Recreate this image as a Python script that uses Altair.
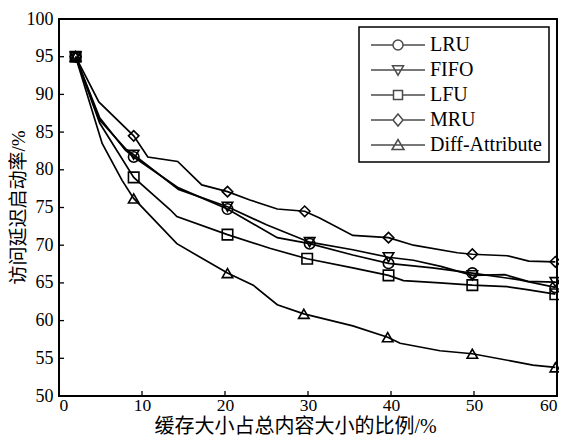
import altair as alt
import pandas as pd

SERIES = ["LRU", "FIFO", "LFU", "MRU", "Diff-Attribute"]

# vertices of each curve; M = 1 where a marker is drawn
LRU_X = [2, 4.9, 8, 9, 14.4, 20.3, 26.3, 30.2, 35.4, 39.7, 45, 49.8, 55.5, 59.8]
LRU_Y = [95, 86.9, 82.6, 81.7, 77.6, 74.8, 71.0, 70.2, 68.7, 67.6, 67.0, 66.3, 65.4, 64.4]
LRU_M = [1, 0, 0, 1, 0, 1, 0, 1, 0, 1, 0, 1, 0, 1]

FIFO_X = [2, 4.9, 8, 9, 14.4, 20.3, 25, 30.2, 35.4, 39.7, 42.7, 46, 49.8, 53.7, 56.5, 59.8]
FIFO_Y = [95, 86.6, 82.8, 82.0, 77.4, 75.1, 72.7, 70.4, 69.4, 68.4, 68.0, 67.2, 66.0, 66.1, 65.2, 65.1]
FIFO_M = [1, 0, 0, 1, 0, 1, 0, 1, 0, 1, 0, 0, 1, 0, 0, 1]

LFU_X = [2, 4.9, 9, 13.4, 14.2, 20.3, 25.4, 29.9, 35.4, 39.7, 41.5, 45.9, 49.8, 54, 56.4, 59.8]
LFU_Y = [95, 86.2, 79.0, 74.7, 73.8, 71.4, 69.6, 68.2, 67.0, 66.0, 65.3, 65.0, 64.7, 64.5, 64.1, 63.5]
LFU_M = [1, 0, 1, 0, 0, 1, 0, 1, 0, 1, 0, 0, 1, 0, 0, 1]

MRU_X = [2, 4.8, 9, 10.7, 14.3, 17.2, 20.3, 23, 26.3, 29.6, 31.4, 35.4, 39.7, 42.7, 48, 49.8, 54, 56.6, 59.8]
MRU_Y = [95, 89.0, 84.5, 81.7, 81.1, 78.0, 77.1, 76.0, 74.8, 74.5, 73.6, 71.3, 71.0, 70.0, 69.0, 68.8, 68.6, 67.9, 67.8]
MRU_M = [1, 0, 1, 0, 0, 0, 1, 0, 0, 1, 0, 0, 1, 0, 0, 1, 0, 0, 1]

DIFF_X = [2, 5.2, 7.6, 9, 14.2, 20.3, 23.4, 26.3, 29.5, 35.4, 39.6, 41.1, 45.9, 49.8, 55.2, 57.1, 59.8]
DIFF_Y = [95, 83.5, 78.6, 76.2, 70.2, 66.3, 64.7, 62.1, 60.9, 59.3, 57.8, 57.0, 56.0, 55.6, 54.5, 54.1, 53.8]
DIFF_M = [1, 0, 0, 1, 0, 1, 0, 0, 1, 0, 1, 0, 0, 1, 0, 0, 1]

X_TICKS = [0, 10, 20, 30, 40, 50, 60]
Y_TICKS = [50, 55, 60, 65, 70, 75, 80, 85, 90, 95, 100]
X_INNER = [10, 20, 30, 40, 50]
Y_INNER = [55, 60, 65, 70, 75, 80, 85, 90, 95]

SHAPES = ["circle", "triangle-down", "square", "diamond", "triangle-up"]
LEGEND_PATHS = [
    "M-2.7,0H-0.5M0.5,0H2.7M-0.5,0A0.5,0.5 0 1,0 0.5,0A0.5,0.5 0 1,0 -0.5,0Z",
    "M-2.7,0H2.7M-0.55,-0.42H0.55L0,0.52Z",
    "M-2.7,0H-0.45M0.45,0H2.7M-0.45,-0.45H0.45V0.45H-0.45Z",
    "M-2.7,0H-0.5M0.5,0H2.7M0,-0.6L0.5,0L0,0.6L-0.5,0Z",
    "M-2.7,0H2.7M-0.6,0.45H0.6L0,-0.55Z",
]

rows = []
for name, xs, ys, ms in [("LRU", LRU_X, LRU_Y, LRU_M), ("FIFO", FIFO_X, FIFO_Y, FIFO_M),
                         ("LFU", LFU_X, LFU_Y, LFU_M), ("MRU", MRU_X, MRU_Y, MRU_M),
                         ("Diff-Attribute", DIFF_X, DIFF_Y, DIFF_M)]:
    for i, (x, y, m) in enumerate(zip(xs, ys, ms)):
        rows.append({"series": name, "x": x, "y": y, "m": m, "i": i})
df = pd.DataFrame(rows)

SERIF = "Times New Roman, Liberation Serif, DejaVu Serif, serif"
CJK = "Times New Roman, Liberation Serif, Noto Sans CJK SC, serif"

xs = alt.Scale(domain=[0, 60], nice=False)
ys = alt.Scale(domain=[50, 100], nice=False, zero=False)

x_axis = alt.Axis(
    values=X_TICKS, title="缓存大小占总内容大小的比例/%", labelPadding=0,
    labelOverlap=False, labelFontSize=17.5,
    titleX=236, titleY=30.5, titleBaseline="middle", titleAlign="center",
    titleFont=CJK, titleFontSize=20)
y_axis = alt.Axis(
    values=Y_TICKS, title="访问延迟启动率/%", labelPadding=6,
    labelOverlap=False, labelFontSize=18,
    titleX=-41, titleY=188, titleAngle=270, titleBaseline="middle", titleAlign="center",
    titleFont=CJK, titleFontSize=19)

x_enc = alt.X("x:Q", scale=xs, axis=x_axis)
y_enc = alt.Y("y:Q", scale=ys, axis=y_axis)

base = alt.Chart(df)

lines = base.mark_line(color="black", strokeWidth=1.7).encode(
    x=x_enc, y=y_enc, detail="series:N", order="i:Q")

points = base.transform_filter("datum.m == 1").mark_point(
    filled=False, color="black", strokeWidth=1.6, size=110, opacity=1).encode(
    x=x_enc, y=y_enc,
    shape=alt.Shape("series:N", scale=alt.Scale(domain=SERIES, range=SHAPES), legend=None))

legend_layer = base.transform_filter("datum.x < -1000").mark_point(
    filled=False, color="black", strokeWidth=1.5).encode(
    x=x_enc, y=y_enc,
    shape=alt.Shape("series:N", scale=alt.Scale(domain=SERIES, range=LEGEND_PATHS),
                    legend=alt.Legend(title=None, orient="top-right", offset=8, padding=7,
                                      strokeColor="black", fillColor="white",
                                      symbolSize=400, symbolStrokeWidth=1.5,
                                      symbolStrokeColor="black", symbolFillColor="white",
                                      symbolOffset=21, labelOffset=21, rowPadding=4,
                                      labelFont=SERIF, labelFontSize=20, labelColor="black",
                                      labelLimit=300)))

xt = pd.DataFrame({"x": X_INNER})
yt = pd.DataFrame({"y": Y_INNER})
xticks = alt.Chart(xt).mark_rule(color="black", strokeWidth=1.3).encode(
    x=x_enc, y=alt.value(377), y2=alt.value(372))
yticks = alt.Chart(yt).mark_rule(color="black", strokeWidth=1.3).encode(
    y=y_enc, x=alt.value(0), x2=alt.value(5))

chart = alt.layer(lines, xticks, yticks, points, legend_layer).resolve_scale(
    shape="independent").resolve_legend(shape="independent").properties(
    width=498, height=377,
    padding={"left": 51, "top": 11, "right": 2, "bottom": 40},
    autosize=alt.AutoSizeParams(type="none"),
    background="white",
).configure_view(stroke="black", strokeWidth=2).configure_axis(
    domain=False, ticks=False, tickSize=0, grid=False,
    labelFont=SERIF, labelColor="black",
    titleFontWeight="normal", titleColor="black",
).configure_legend(strokeWidth=1.5)

chart.save("out.html", embed_options={"renderer": "svg", "actions": False})
